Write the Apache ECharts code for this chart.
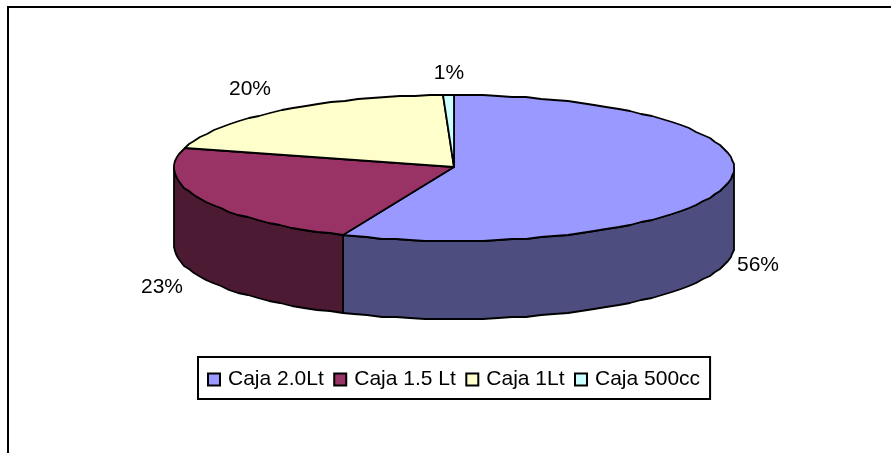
<!DOCTYPE html>
<html>
<head>
<meta charset="utf-8">
<style>html,body{margin:0;padding:0;background:#fff}#chart{width:891px;height:453px}</style>
<script src="https://cdn.jsdelivr.net/npm/echarts@6/dist/echarts.min.js"></script>
</head>
<body>
<div id="chart"></div>
<script>
// Box sales share by pack size
const categories = ['Caja 2.0Lt', 'Caja 1.5 Lt', 'Caja 1Lt', 'Caja 500cc'];
const shares = [56.49, 22.95, 19.96, 0.6];
const topColors = ['#9999FF', '#993366', '#FFFFCC', '#CCFFFF'];
const wallColors = ['#4D4D80', '#4D1A33', '#80806A', '#6A8080'];
const labelCentres = [[758, 265], [162, 287], [250, 89], [449, 73]];

// Tilted disc geometry
const disc = { cx: 454, cy: 168, rx: 280, ry: 73, depth: 78 };
const STEP = 3;

function rimPoint(deg, dy) {
  const a = deg * Math.PI / 180;
  return [
    Math.round(disc.cx + disc.rx * Math.sin(a)),
    Math.round(disc.cy - disc.ry * Math.cos(a) + (dy || 0))
  ];
}

function arc(from, to, dy) {
  const pts = [];
  for (let d = from; d < to; d += STEP) pts.push(rimPoint(d, dy));
  pts.push(rimPoint(to, dy));
  return pts;
}

const total = shares.reduce((s, v) => s + v, 0);
const outline = { stroke: '#000', lineWidth: 1.8, lineJoin: 'round' };

function sliceSeries(index) {
  const before = shares.slice(0, index).reduce((s, v) => s + v, 0);
  const startDeg = before / total * 360;
  const endDeg = (before + shares[index]) / total * 360;
  return {
    type: 'custom',
    name: categories[index],
    coordinateSystem: 'none',
    itemStyle: { color: topColors[index] },
    data: [shares[index]],
    silent: true,
    renderItem() {
      const children = [];
      // Only the near half of the rim shows a wall
      const wallFrom = Math.max(startDeg, 90);
      const wallTo = Math.min(endDeg, 270);
      if (wallFrom < wallTo) {
        const upper = arc(wallFrom, wallTo, 0);
        const lower = arc(wallFrom, wallTo, disc.depth).reverse();
        children.push({
          type: 'polygon',
          shape: { points: upper.concat(lower) },
          style: Object.assign({ fill: wallColors[index] }, outline)
        });
      }
      children.push({
        type: 'polygon',
        shape: { points: [[disc.cx, disc.cy - 1]].concat(arc(startDeg, endDeg, 0)) },
        style: Object.assign({ fill: topColors[index] }, outline)
      });
      children.push({
        type: 'text',
        style: {
          text: Math.round(shares[index] / total * 100) + '%',
          x: labelCentres[index][0],
          y: labelCentres[index][1],
          align: 'center',
          verticalAlign: 'middle',
          fill: '#000',
          font: '21px "Liberation Sans", Arial, sans-serif'
        }
      });
      return { type: 'group', children };
    }
  };
}

const chart = echarts.init(document.getElementById('chart'), null, { renderer: 'canvas' });
chart.setOption({
  animation: false,
  backgroundColor: '#fff',
  legend: {
    data: categories,
    orient: 'horizontal',
    left: 198,
    top: 357,
    padding: [12, 10, 9, 9],
    icon: 'rect',
    itemWidth: 12,
    itemHeight: 12,
    itemGap: 9.5,
    backgroundColor: '#fff',
    borderColor: '#000',
    borderWidth: 2,
    borderRadius: 0,
    selectedMode: false,
    itemStyle: { borderColor: '#000', borderWidth: 2 },
    textStyle: { color: '#000', fontSize: 21, fontFamily: '"Liberation Sans", Arial, sans-serif', padding: [0, 0, 0, 3] }
  },
  series: categories.map((_, i) => sliceSeries(i)),
  graphic: [{
    type: 'polyline',
    silent: true,
    shape: { points: [[8, 460], [8, 7], [900, 7]] },
    style: { stroke: '#000', lineWidth: 2, fill: null }
  }]
});
</script>
</body>
</html>
